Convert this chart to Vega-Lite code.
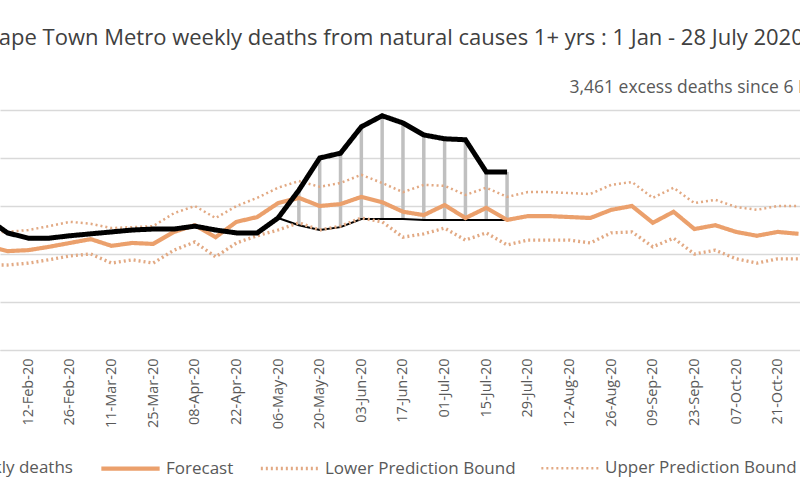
{
  "$schema": "https://vega.github.io/schema/vega-lite/v6.json",
  "autosize": "none",
  "width": 800,
  "height": 288,
  "padding": {"left": 0, "right": 0, "top": 62, "bottom": 150},
  "config": {"view": {"stroke": null}, "font": "Open Sans"},
  "title": {
    "text": "Cape Town Metro weekly deaths from natural causes 1+ yrs : 1 Jan -  28 July 2020",
    "anchor": "start",
    "frame": "group",
    "dx": -15,
    "offset": 12,
    "fontSize": 22,
    "fontWeight": "normal",
    "color": "#404040"
  },
  "data": {
    "values": [
      {"date": "2020-01-29", "actual": 275, "forecast": 217, "lower": 177, "upper": 246},
      {"date": "2020-02-05", "actual": 244, "forecast": 206, "lower": 177, "upper": 246},
      {"date": "2020-02-12", "actual": 233, "forecast": 208, "lower": 181, "upper": 250},
      {"date": "2020-02-19", "actual": 233, "forecast": 215, "lower": 188, "upper": 258},
      {"date": "2020-02-26", "actual": 238, "forecast": 223, "lower": 196, "upper": 267},
      {"date": "2020-03-04", "actual": 242, "forecast": 231, "lower": 200, "upper": 263},
      {"date": "2020-03-11", "actual": 246, "forecast": 217, "lower": 181, "upper": 254},
      {"date": "2020-03-18", "actual": 250, "forecast": 223, "lower": 188, "upper": 256},
      {"date": "2020-03-25", "actual": 252, "forecast": 221, "lower": 181, "upper": 258},
      {"date": "2020-04-01", "actual": 252, "forecast": 246, "lower": 208, "upper": 285},
      {"date": "2020-04-08", "actual": 258, "forecast": 260, "lower": 225, "upper": 300},
      {"date": "2020-04-15", "actual": 250, "forecast": 235, "lower": 194, "upper": 275},
      {"date": "2020-04-22", "actual": 244, "forecast": 267, "lower": 223, "upper": 300},
      {"date": "2020-04-29", "actual": 244, "forecast": 277, "lower": 238, "upper": 317},
      {"date": "2020-05-06", "actual": 275, "forecast": 306, "lower": 250, "upper": 338, "baseline": 275},
      {"date": "2020-05-13", "actual": 333, "forecast": 317, "lower": 265, "upper": 352, "baseline": 260},
      {"date": "2020-05-20", "actual": 400, "forecast": 300, "lower": 250, "upper": 340, "baseline": 250},
      {"date": "2020-05-27", "actual": 410, "forecast": 304, "lower": 258, "upper": 348, "baseline": 256},
      {"date": "2020-06-03", "actual": 465, "forecast": 319, "lower": 275, "upper": 365, "baseline": 273},
      {"date": "2020-06-10", "actual": 488, "forecast": 308, "lower": 267, "upper": 348, "baseline": 273},
      {"date": "2020-06-17", "actual": 473, "forecast": 288, "lower": 235, "upper": 329, "baseline": 273},
      {"date": "2020-06-24", "actual": 448, "forecast": 281, "lower": 242, "upper": 344, "baseline": 271},
      {"date": "2020-07-01", "actual": 440, "forecast": 302, "lower": 254, "upper": 342, "baseline": 271},
      {"date": "2020-07-08", "actual": 438, "forecast": 275, "lower": 229, "upper": 323, "baseline": 271},
      {"date": "2020-07-15", "actual": 371, "forecast": 296, "lower": 244, "upper": 338, "baseline": 271},
      {"date": "2020-07-22", "actual": 371, "forecast": 271, "lower": 219, "upper": 319, "baseline": 271},
      {"date": "2020-07-29", "forecast": 279, "lower": 229, "upper": 329},
      {"date": "2020-08-05", "forecast": 279, "lower": 229, "upper": 329},
      {"date": "2020-08-12", "forecast": 277, "lower": 229, "upper": 327},
      {"date": "2020-08-19", "forecast": 275, "lower": 223, "upper": 325},
      {"date": "2020-08-26", "forecast": 292, "lower": 244, "upper": 344},
      {"date": "2020-09-02", "forecast": 300, "lower": 246, "upper": 350},
      {"date": "2020-09-09", "forecast": 265, "lower": 215, "upper": 317},
      {"date": "2020-09-16", "forecast": 288, "lower": 233, "upper": 338},
      {"date": "2020-09-23", "forecast": 252, "lower": 200, "upper": 306},
      {"date": "2020-09-30", "forecast": 260, "lower": 208, "upper": 313},
      {"date": "2020-10-07", "forecast": 246, "lower": 190, "upper": 298},
      {"date": "2020-10-14", "forecast": 238, "lower": 181, "upper": 292},
      {"date": "2020-10-21", "forecast": 246, "lower": 190, "upper": 300},
      {"date": "2020-10-28", "forecast": 242, "lower": 190, "upper": 300}
    ]
  },
  "encoding": {
    "x": {
      "field": "date",
      "type": "temporal",
      "scale": {"domain": ["2020-02-02T12:00:00", "2020-10-28T12:00:00"]},
      "title": null,
      "axis": {
        "values": ["2020-02-12", "2020-02-26", "2020-03-11", "2020-03-25", "2020-04-08", "2020-04-22", "2020-05-06", "2020-05-20", "2020-06-03", "2020-06-17", "2020-07-01", "2020-07-15", "2020-07-29", "2020-08-12", "2020-08-26", "2020-09-09", "2020-09-23", "2020-10-07", "2020-10-21"],
        "format": "%d-%b-%y",
        "labelAngle": -90,
        "labelFontSize": 14.5,
        "labelColor": "#595959",
        "labelPadding": 8,
        "ticks": false,
        "domainColor": "#d9d9d9",
        "grid": false
      }
    }
  },
  "layer": [
    {
      "transform": [{"filter": "isValid(datum.baseline) && datum.actual - datum.baseline > 10"}],
      "mark": {"type": "rule", "color": "#c0c0c0", "strokeWidth": 3.5},
      "encoding": {"y": {"field": "actual", "type": "quantitative"}, "y2": {"field": "baseline"}}
    },
    {
      "transform": [{"filter": "isValid(datum.baseline)"}],
      "mark": {"type": "line", "color": "#000000", "strokeWidth": 2},
      "encoding": {"y": {"field": "baseline", "type": "quantitative"}}
    },
    {
      "transform": [
        {"fold": ["upper", "lower", "forecast", "actual"], "as": ["key", "v"]},
        {"filter": "isValid(datum.v)"},
        {"calculate": "datum.key == 'actual' ? 'Weekly deaths' : datum.key == 'forecast' ? 'Forecast' : datum.key == 'lower' ? 'Lower Prediction Bound' : 'Upper Prediction Bound'", "as": "series"}
      ],
      "mark": {"type": "line"},
      "encoding": {
        "y": {
          "field": "v",
          "type": "quantitative",
          "title": null,
          "scale": {"domain": [0, 600]},
          "axis": {"values": [0, 100, 200, 300, 400, 500], "labels": false, "ticks": false, "domain": false, "gridColor": "#d9d9d9", "gridWidth": 1.5}
        },
        "color": {
          "field": "series",
          "type": "nominal",
          "scale": {
            "domain": ["Weekly deaths", "Forecast", "Lower Prediction Bound", "Upper Prediction Bound"],
            "range": ["#000000", "#EBA06C", "#E2A983", "#E2A983"]
          },
          "legend": {
            "title": null,
            "orient": "none",
            "direction": "horizontal",
            "legendX": -110,
            "legendY": 374,
            "symbolType": "stroke",
            "symbolSize": 3400,
            "symbolStrokeWidth": 3,
            "labelFontSize": 17,
            "labelLimit": 0,
            "labelColor": "#595959",
            "columnPadding": 20
          }
        },
        "strokeDash": {
          "field": "series",
          "type": "nominal",
          "scale": {
            "domain": ["Weekly deaths", "Forecast", "Lower Prediction Bound", "Upper Prediction Bound"],
            "range": [[1, 0], [1, 0], [2, 3], [2, 3]]
          },
          "legend": null
        },
        "strokeWidth": {
          "field": "series",
          "type": "nominal",
          "scale": {
            "domain": ["Weekly deaths", "Forecast", "Lower Prediction Bound", "Upper Prediction Bound"],
            "range": [5, 2.5, 1.8, 1.8]
          },
          "legend": null
        },
        "order": {"field": "key", "sort": "descending"}
      }
    },
    {
      "data": {"values": [{"date": "2020-08-12", "v": 545, "label": "3,461  excess deaths since 6 May"}]},
      "mark": {"type": "text", "align": "left", "fontSize": 17.5, "color": "#595959"},
      "encoding": {"y": {"field": "v", "type": "quantitative"}, "text": {"field": "label"}}
    }
  ]
}
